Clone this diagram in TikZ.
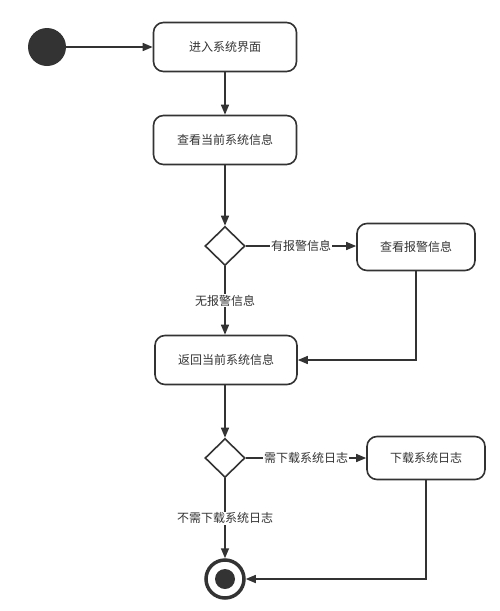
\documentclass[tikz,border=0pt]{standalone}
\usepackage{fontspec}
\setmainfont{Noto Sans CJK SC}
\usetikzlibrary{arrows.meta,shapes.geometric}
\definecolor{ink}{HTML}{333333}
\tikzset{
  box/.style={draw=ink, line width=1.6pt, rounded corners=10pt, minimum width=143pt, minimum height=49pt, align=center, font=\fontsize{12}{14}\selectfont, text=ink},
  smallbox/.style={box, minimum width=118pt, minimum height=47pt},
  choice/.style={draw=ink, line width=1.6pt, diamond, minimum width=40pt, minimum height=39pt, inner sep=0pt},
  flow/.style={draw=ink, line width=1.5pt, -{Triangle[length=10pt,width=8pt]}},
  lbl/.style={fill=white, inner sep=1pt, font=\fontsize{12}{14}\selectfont, text=ink}
}
\begin{document}
\begin{tikzpicture}[x=1pt,y=-1pt]
\useasboundingbox (0,0) rectangle (500,611);
\node[circle, fill=ink, minimum size=38pt, inner sep=0pt] (start) at (47,47) {};
\node[box] (b1) at (225,47) {进入系统界面};
\node[box] (b2) at (225,140) {查看当前系统信息};
\node[choice] (d1) at (225,246) {};
\node[smallbox] (b3) at (416,247) {查看报警信息};
\node[box, minimum width=142pt] (b4) at (226,360) {返回当前系统信息};
\node[choice] (d2) at (225,458) {};
\node[smallbox, minimum height=43pt] (b5) at (426,458) {下载系统日志};
\node[circle, draw=ink, line width=3.5pt, minimum size=38pt, inner sep=0pt] (end) at (225,579) {};
\node[circle, fill=ink, minimum size=20pt, inner sep=0pt] (endin) at (225,579) {};
\coordinate (c1) at (416,360);
\coordinate (c2) at (426,579);

\draw[flow] (start) -- (b1);
\draw[flow] (b1) -- (b2);
\draw[flow] (b2) -- (d1);
\draw[flow] (d1.east) -- node[lbl] {有报警信息} (b3.west |- d1.east);
\draw[flow] (d1) -- node[lbl] {无报警信息} (d1 |- b4.north);
\draw[flow] (b3.south) -- (c1) -- (b4.east |- c1);
\draw[flow] (b4.south -| d2) -- (d2);
\draw[flow] (d2.east) -- node[lbl] {需下载系统日志} (b5.west |- d2.east);
\draw[flow] (d2) -- node[lbl] {不需下载系统日志} (end);
\draw[flow] (b5.south) -- (c2) -- (end.east);
\end{tikzpicture}
\end{document}
